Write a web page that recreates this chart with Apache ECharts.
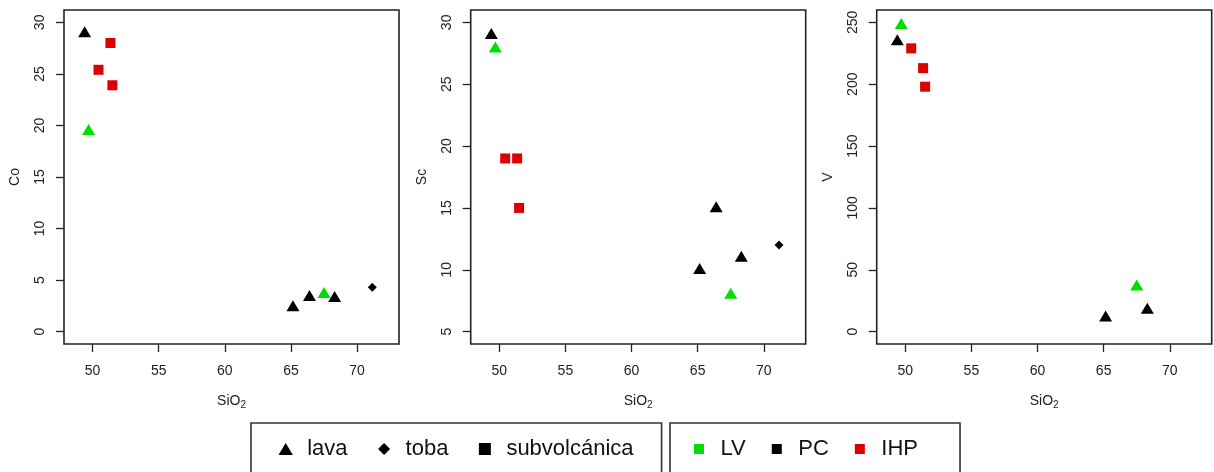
<!DOCTYPE html>
<html><head><meta charset="utf-8">
<script src="https://cdn.jsdelivr.net/npm/echarts@6/dist/echarts.min.js"></script>
<style>html,body{margin:0;padding:0;background:#fff}#c{width:1214px;height:472px}</style>
</head><body><div id="c"></div>
<script>
// ---- data ----
const rockType = ['lava','lava','subvolcánica','subvolcánica','subvolcánica','lava','lava','lava','lava','toba'];
const unitGroup = ['PC','LV','IHP','IHP','IHP','PC','PC','LV','PC','PC'];
const sio2 = [49.4, 49.7, 50.45, 51.35, 51.5, 65.15, 66.4, 67.5, 68.3, 71.15];
const co = [29.1, 19.6, 25.4, 28.0, 23.9, 2.5, 3.5, 3.8, 3.4, 4.3];
const sc = [29.1, 28.0, 19.0, 19.0, 15.0, 10.1, 15.1, 8.1, 11.1, 12.0];
const v  = [236, 249, 229, 213, 198, 12.7, null, 37.7, 19, null];
const xTicks = [50, 55, 60, 65, 70];
const coTicks = [0, 5, 10, 15, 20, 25, 30];
const scTicks = [5, 10, 15, 20, 25, 30];
const vTicks = [0, 50, 100, 150, 200, 250];
const rockLegend = ['lava', 'toba', 'subvolcánica'];
const groupLegend = ['LV', 'PC', 'IHP'];

// ---- styling ----
const FONT = "'Liberation Sans', Arial, Helvetica, sans-serif";
const rockSymbol = { 'lava': 'triangle', 'toba': 'diamond', 'subvolcánica': 'rect' };
const rockIcon = { 'lava': 'path://M6,0L12,10L0,10Z', 'toba': 'path://M5,0L10,5L5,10L0,5Z', 'subvolcánica': 'path://M0,0L10,0L10,10L0,10Z' };
const rockSize = { 'lava': [13, 11], 'toba': [9, 9], 'subvolcánica': [10, 10] };
const groupColor = { 'LV': '#00dd00', 'PC': '#000000', 'IHP': '#dd0000' };

const panels = [
  { name: 'Co', vals: co, ticks: coTicks, min: -1.2, max: 31.2, left: 64 },
  { name: 'Sc', vals: sc, ticks: scTicks, min: 4, max: 31, left: 470.7 },
  { name: 'V',  vals: v,  ticks: vTicks, min: -10, max: 260, left: 876.7 }
];

const grids = [], xAxes = [], yAxes = [], series = [];
panels.forEach((p, k) => {
  grids.push({ left: p.left, top: 10, width: 335, height: 334, show: true,
    borderColor: '#222', borderWidth: 1.6, backgroundColor: 'transparent' });
  xAxes.push({ type: 'value', gridIndex: k, min: 47.84, max: 73.17, position: 'bottom',
    axisLine: { show: false, onZero: false }, splitLine: { show: false },
    axisTick: { show: true, inside: false, length: 8, lineStyle: { color: '#222', width: 1.3 }, customValues: xTicks },
    axisLabel: { customValues: xTicks, fontSize: 14, color: '#222', fontFamily: FONT, margin: 20 },
    name: 'SiO{s|2}', nameLocation: 'middle', nameGap: 48,
    nameTextStyle: { fontSize: 14, color: '#222', fontFamily: FONT,
      rich: { s: { fontSize: 10, color: '#222', fontFamily: FONT, verticalAlign: 'bottom', padding: [8, 0, 0, 0] } } }
  });
  yAxes.push({ type: 'value', gridIndex: k, min: p.min, max: p.max, position: 'left',
    axisLine: { show: false, onZero: false }, splitLine: { show: false },
    axisTick: { show: true, inside: false, length: 8, lineStyle: { color: '#222', width: 1.3 }, customValues: p.ticks },
    axisLabel: { customValues: p.ticks, rotate: 90, fontSize: 14, color: '#222', fontFamily: FONT, margin: 17 },
    name: p.name, nameLocation: 'middle', nameGap: 42, nameRotate: 90,
    nameTextStyle: { fontSize: 14, color: '#222', fontFamily: FONT }
  });
  const combos = [];
  rockType.forEach((r, i) => {
    const key = r + '|' + unitGroup[i];
    if (!combos.includes(key)) combos.push(key);
  });
  combos.forEach(key => {
    const [r, g] = key.split('|');
    const data = [];
    sio2.forEach((x, i) => {
      if (rockType[i] === r && unitGroup[i] === g && p.vals[i] !== null) data.push([x, p.vals[i]]);
    });
    if (!data.length) return;
    series.push({ type: 'scatter', name: p.name + ' ' + r + ' ' + g, xAxisIndex: k, yAxisIndex: k,
      symbol: rockSymbol[r], symbolSize: rockSize[r], itemStyle: { color: groupColor[g], opacity: 1 },
      data: data, z: g === 'PC' ? 3 : 4, emphasis: { disabled: true } });
  });
});
// legend entries (no data)
rockLegend.forEach(n => series.push({ type: 'scatter', name: n, data: [], symbol: rockSymbol[n], itemStyle: { color: '#000' } }));
groupLegend.forEach(n => series.push({ type: 'scatter', name: n, data: [], symbol: 'rect', itemStyle: { color: groupColor[n] } }));

const legendText = { fontSize: 22, color: '#111', fontFamily: FONT };
const option = {
  animation: false,
  backgroundColor: '#fff',
  grid: grids, xAxis: xAxes, yAxis: yAxes, series: series,
  legend: [
    { data: rockLegend.map(n => ({ name: n, icon: rockIcon[n], itemStyle: { color: '#000', borderWidth: 0, opacity: 1 } })),
      left: 251, top: 423, orient: 'horizontal', itemWidth: 33, itemHeight: 12, itemGap: 30.5, symbolKeepAspect: true,
      padding: [15, 28, 30, 27.5], borderColor: '#333', borderWidth: 1.6, selectedMode: false, textStyle: legendText },
    { data: groupLegend.map(n => ({ name: n, icon: 'path://M0,0L10,0L10,10L0,10Z', itemStyle: { color: groupColor[n], borderWidth: 0, opacity: 1 } })),
      left: 670, top: 423, orient: 'horizontal', itemWidth: 33, itemHeight: 10, itemGap: 26, symbolKeepAspect: true,
      padding: [15, 42, 30, 24], borderColor: '#333', borderWidth: 1.6, selectedMode: false, textStyle: legendText }
  ]
};
const chart = echarts.init(document.getElementById('c'), null, { renderer: 'canvas' });
chart.setOption(option);
</script>
</body></html>
